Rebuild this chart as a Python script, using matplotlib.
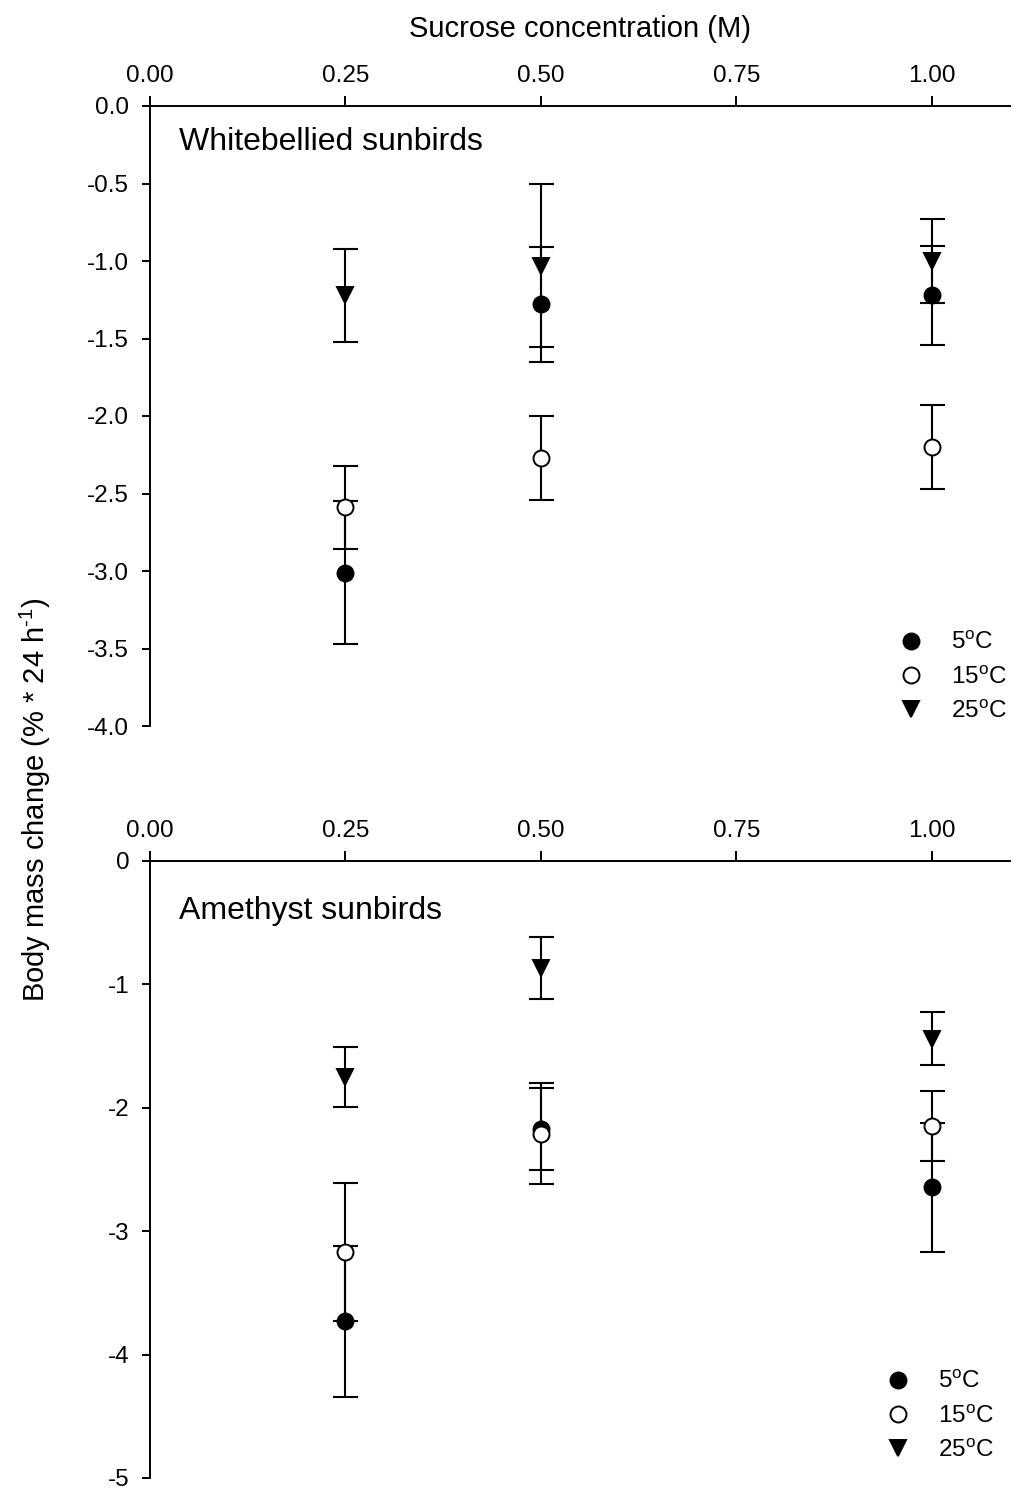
import matplotlib
matplotlib.use("Agg")
import matplotlib.pyplot as plt
from matplotlib.lines import Line2D
import numpy as np

plt.rcParams['font.family'] = ['Liberation Sans', 'DejaVu Sans']
plt.rcParams['mathtext.fontset'] = 'custom'
plt.rcParams['mathtext.rm'] = 'Liberation Sans'
plt.rcParams['mathtext.it'] = 'Liberation Sans'
plt.rcParams['axes.unicode_minus'] = False

# ---- data ----
conc = [0.25, 0.50, 1.00]

wb_5 = [-3.01, -1.28, -1.22]
wb_5_se = [0.46, 0.37, 0.32]
wb_15 = [-2.59, -2.27, -2.20]
wb_15_se = [0.27, 0.27, 0.27]
wb_25 = [-1.22, -1.03, -1.00]
wb_25_se = [0.30, 0.525, 0.27]

am_5 = [-3.73, -2.17, -2.645]
am_5_se = [0.61, 0.33, 0.525]
am_15 = [-3.17, -2.21, -2.15]
am_15_se = [0.56, 0.41, 0.285]
am_25 = [-1.75, -0.865, -1.44]
am_25_se = [0.24, 0.25, 0.215]

x_ticks = [0.00, 0.25, 0.50, 0.75, 1.00]
x_ticklabels = ["0.00", "0.25", "0.50", "0.75", "1.00"]
top_yticks = [0.0, -0.5, -1.0, -1.5, -2.0, -2.5, -3.0, -3.5, -4.0]
top_yticklabels = ["0.0", "-0.5", "-1.0", "-1.5", "-2.0", "-2.5", "-3.0", "-3.5", "-4.0"]
bot_yticks = [0, -1, -2, -3, -4, -5]
bot_yticklabels = ["0", "-1", "-2", "-3", "-4", "-5"]
labels = [r"5$^{\rm o}$C", r"15$^{\rm o}$C", r"25$^{\rm o}$C"]

W, H = 1013, 1494
fig = plt.figure(figsize=(W / 100, H / 100), dpi=100)

def fx(px):
    return px / W

def fy(py):
    return 1 - py / H

ax1 = fig.add_axes([fx(150), fy(726), fx(1010) - fx(150), fy(106) - fy(726)])
ax2 = fig.add_axes([fx(150), fy(1478), fx(1010) - fx(150), fy(861) - fy(1478)])

styles = [
    dict(marker='o', mfc='black', mec='black'),
    dict(marker='o', mfc='white', mec='black'),
    dict(marker='v', mfc='black', mec='black'),
]

def draw(ax, series, ses, ylim, yticks, yticklabels, title, title_y, leg_xy):
    handles = []
    for (vals, se, st, lab) in zip(series, ses, styles, labels):
        ax.errorbar(conc, vals, yerr=se, fmt='none', ecolor='black',
                    elinewidth=1.5, capsize=9, capthick=1.5, zorder=2)
        ax.plot(conc, vals, linestyle='none', marker=st['marker'],
                markerfacecolor=st['mfc'], markeredgecolor=st['mec'],
                markersize=11.5, markeredgewidth=1.4, zorder=3)
        handles.append(Line2D([], [], linestyle='none', marker=st['marker'],
                              markerfacecolor=st['mfc'], markeredgecolor=st['mec'],
                              markersize=11.5, markeredgewidth=1.4, label=lab))
    ax.set_xlim(0, 1.1)
    ax.set_ylim(*ylim)
    ax.spines['right'].set_visible(False)
    ax.spines['bottom'].set_visible(False)
    for s in ['top', 'left']:
        ax.spines[s].set_linewidth(1.4)
    ax.xaxis.set_ticks_position('top')
    ax.xaxis.set_label_position('top')
    ax.set_xticks(x_ticks)
    ax.set_xticklabels(x_ticklabels)
    ax.set_yticks(yticks)
    ax.set_yticklabels(yticklabels)
    ax.tick_params(axis='x', direction='out', length=7, width=1.4, pad=7, labelsize=17.5)
    ax.tick_params(axis='y', direction='out', length=6, width=1.4, pad=9, labelsize=17.5)
    ax.text(0.037, title_y, title, fontsize=23, ha='left', va='center')
    ax.legend(handles=handles, loc='upper left', frameon=False,
              bbox_to_anchor=(fx(leg_xy[0]), fy(leg_xy[1])),
              bbox_transform=fig.transFigure, borderaxespad=0, borderpad=0,
              fontsize=17.5, handlelength=1.0, handletextpad=1.15,
              labelspacing=0.5, numpoints=1)

draw(ax1, [wb_5, wb_15, wb_25], [wb_5_se, wb_15_se, wb_25_se], (-4.0, 0.0),
     top_yticks, top_yticklabels, "Whitebellied sunbirds", -0.232, (899, 632))
draw(ax2, [am_5, am_15, am_25], [am_5_se, am_15_se, am_25_se], (-5, 0),
     bot_yticks, bot_yticklabels, "Amethyst sunbirds", -0.405, (886, 1371))

ax1.set_xlabel("Sucrose concentration (M)", fontsize=21, labelpad=20)
fig.text(fx(35), fy(800), r"Body mass change (% * 24 h$^{\text{-1}}$)", rotation=90,
         fontsize=21, ha='center', va='center')

fig.savefig("out.png", dpi=100)
